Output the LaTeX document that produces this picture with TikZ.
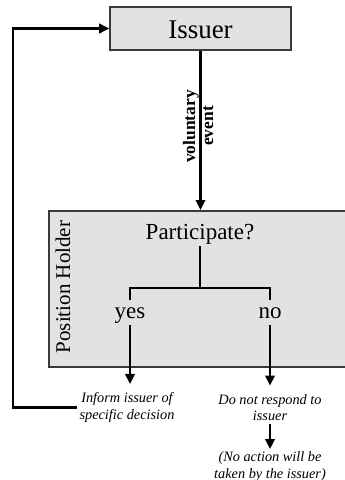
\documentclass[tikz,border=0pt]{standalone}
\usepackage{fontspec}
\setmainfont{Liberation Serif}
\usetikzlibrary{arrows.meta}
\definecolor{boxfill}{HTML}{E1E2E4}
\definecolor{boxline}{HTML}{3A3A3A}
\begin{document}
\begin{tikzpicture}[x=1pt,y=-1pt,
  conn/.style={line width=2.1pt, black},
  arr/.style={conn, -{Triangle[length=10pt,width=9.5pt]}},
  box/.style={draw=boxline, line width=1.6pt, fill=boxfill},
  lbl/.style={font=\fontsize{23}{26}\selectfont, inner sep=2pt, text height=16pt, text depth=5pt},
  note/.style={font=\fontsize{14.3}{16.5}\selectfont\itshape, align=center, inner sep=2.5pt},
  vlbl/.style={font=\fontsize{17.5}{20}\selectfont\bfseries, rotate=90, anchor=base, inner sep=0pt}]
\useasboundingbox (0,0) rectangle (345,480);
\clip (0,0) rectangle (345,480);
\node[box, minimum width=181pt, minimum height=43pt, inner sep=0pt,
      font=\fontsize{27}{30}\selectfont, text height=20pt, text depth=0pt] (issuer) at (200.5,28.5) {Issuer};
\node[box, anchor=north west, minimum width=312pt, minimum height=156pt] (ph) at (48,210) {};
\node[font=\fontsize{21}{24}\selectfont, rotate=90, anchor=base, inner sep=0pt] (phl) at (70,287) {Position Holder};
\node[vlbl] (vol) at (195,126.5) {voluntary};
\node[vlbl] (evt) at (213,126) {event};
\node[lbl] (part) at (200,233.5) {Participate?};
\node[lbl] (yes) at (130,312.5) {yes};
\node[lbl] (no) at (270,312.5) {no};
\coordinate (split) at (200,288);
\node[note] (inform) at (127,407.5) {Inform issuer of\\specific decision};
\node[note] (dnr) at (270,407.5) {Do not respond to\\issuer};
\node[note] (noact) at (270,466.5) {(No action will be\\taken by the issuer)};
\draw[arr] (issuer.south) -- (issuer.south |- ph.north);
\draw[conn] (part.south) -- (split);
\draw[conn] (yes.north) |- (split) -| (no.north);
\draw[arr, shorten >=6pt] (yes.south) -- (yes.south |- inform.north);
\draw[arr, shorten >=6pt] (no.south) -- (dnr.north);
\draw[arr] (dnr.south) -- (noact.north);
\draw[arr] (inform.west) -- ++(-64,0) |- (issuer.west);
\end{tikzpicture}
\end{document}
